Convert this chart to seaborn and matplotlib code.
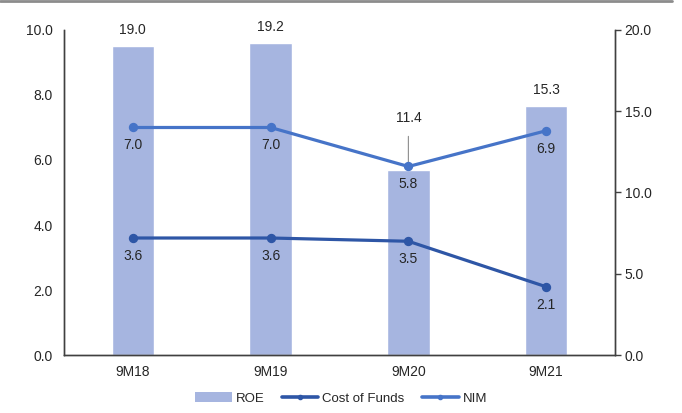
import numpy as np
import pandas as pd
import matplotlib.pyplot as plt
import seaborn as sns
from matplotlib.patches import Patch
from matplotlib.lines import Line2D

periods = ["9M18", "9M19", "9M20", "9M21"]
roe = [19.0, 19.2, 11.4, 15.3]
cost_of_funds = [3.6, 3.6, 3.5, 2.1]
nim = [7.0, 7.0, 5.8, 6.9]

left_ticks = [0, 2, 4, 6, 8, 10]
right_ticks = [0, 5, 10, 15, 20]

BAR_COLOR = "#A6B5E0"
COF_COLOR = "#2E56A6"
NIM_COLOR = "#4674C8"
TEXT_COLOR = "#262626"

sns.set_theme(style="white")
plt.rcParams["font.family"] = ["Liberation Sans", "DejaVu Sans"]

fig = plt.figure(figsize=(6.82, 4.13), dpi=100)
ax = fig.add_axes([0.0938, 0.1404, 0.808, 0.787])

# bars (ROE) on the right-hand scale, lines on a twin with the left-hand scale
df = pd.DataFrame({"period": periods, "roe": roe,
                   "cof": cost_of_funds, "nim": nim})
sns.barplot(data=df, x="period", y="roe", order=periods, color=BAR_COLOR,
            width=0.31, saturation=1, ax=ax)
ax.set_ylim(0, 20)
ax.set_xlim(-0.5, 3.5)

ax2 = ax.twinx()
sns.pointplot(data=df, x="period", y="cof", order=periods, color=COF_COLOR,
              markers="o", markersize=5, linewidth=2.3, ax=ax2)
sns.pointplot(data=df, x="period", y="nim", order=periods, color=NIM_COLOR,
              markers="o", markersize=5, linewidth=2.3, ax=ax2)
ax2.set_ylim(0, 10)
ax2.set_xlim(-0.5, 3.5)

# swap sides: left scale for lines, right scale for bars
ax.yaxis.set_ticks_position("right")
ax2.yaxis.set_ticks_position("left")
ax.set_yticks(right_ticks)
ax.set_yticklabels([f"{v:.1f}" for v in right_ticks])
ax2.set_yticks(left_ticks)
ax2.set_yticklabels([f"{v:.1f}" for v in left_ticks])
ax.tick_params(axis="y", which="both", right=True, left=False, length=4,
               width=1, color="#404040", labelsize=10, labelcolor=TEXT_COLOR, pad=3)
ax2.tick_params(axis="y", which="both", left=False, right=False, length=0,
                labelsize=10, labelcolor=TEXT_COLOR, pad=8)
ax.tick_params(axis="x", bottom=False, length=0, labelsize=10,
               labelcolor=TEXT_COLOR, pad=7)
ax2.tick_params(axis="x", bottom=False, labelbottom=False)

for a in (ax, ax2):
    a.set_xlabel("")
    a.set_ylabel("")
    a.spines["top"].set_visible(False)
    for s in ("left", "right", "bottom"):
        a.spines[s].set_color("#404040")
        a.spines[s].set_linewidth(1)

# data labels
for i, v in enumerate(roe):
    if periods[i] == "9M20":
        ax.annotate(f"{v:.1f}", xy=(i, v), xytext=(0, 52), textcoords="offset pixels",
                    ha="center", va="center", fontsize=10, color=TEXT_COLOR,
                    arrowprops=dict(arrowstyle="-", color="#8C8C8C", lw=0.8,
                                    shrinkA=6, shrinkB=2))
    else:
        ax.annotate(f"{v:.1f}", xy=(i, v), xytext=(0, 16), textcoords="offset pixels",
                    ha="center", va="center", fontsize=10, color=TEXT_COLOR)

for series in (nim, cost_of_funds):
    for i, v in enumerate(series):
        ax2.annotate(f"{v:.1f}", xy=(i, v), xytext=(0, -18), textcoords="offset pixels",
                     ha="center", va="center", fontsize=10, color=TEXT_COLOR)

handles = [
    Patch(facecolor=BAR_COLOR, edgecolor="none", label="ROE"),
    Line2D([0], [0], color=COF_COLOR, lw=2.6, marker="o", markersize=3, label="Cost of Funds"),
    Line2D([0], [0], color=NIM_COLOR, lw=2.6, marker="o", markersize=3, label="NIM"),
]
fig.legend(handles=handles, loc="center", bbox_to_anchor=(0.5, 0.035), ncol=3,
           frameon=False, fontsize=9.5, handlelength=2.8, handletextpad=0.3,
           columnspacing=1.3, labelcolor=TEXT_COLOR)

# thin gray border at the top of the image
fig.add_artist(Line2D([0, 0.985], [0.997, 0.997], transform=fig.transFigure,
                      color="#8C8C8C", lw=2))

fig.savefig("out.png", dpi=100)
